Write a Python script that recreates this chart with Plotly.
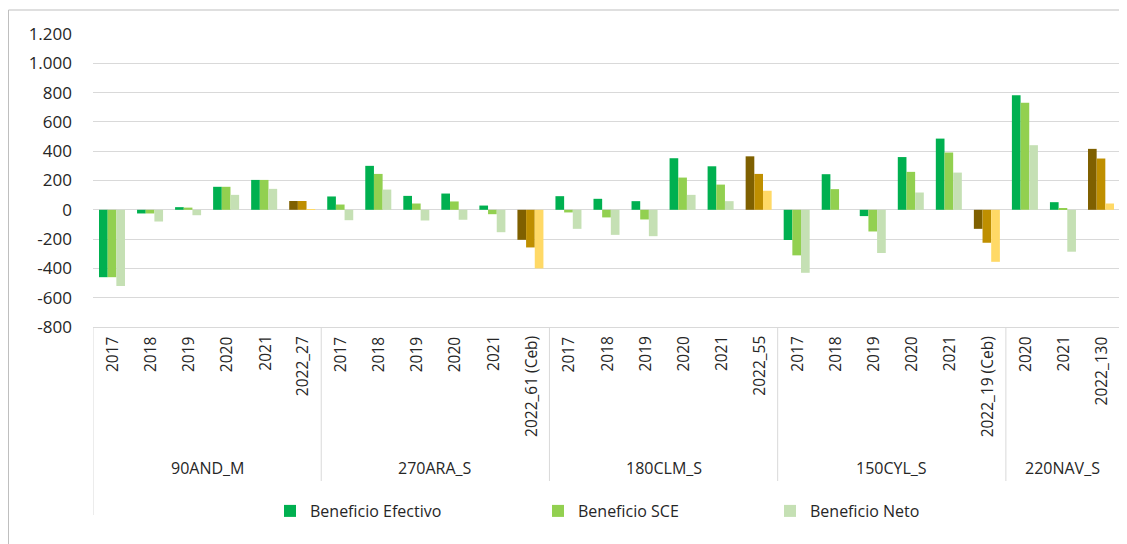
import plotly.graph_objects as go

# ---------------- data ----------------
group_names = ["90AND_M", "270ARA_S", "180CLM_S", "150CYL_S", "220NAV_S"]
group_years = [
    ["2017", "2018", "2019", "2020", "2021", "2022_27"],
    ["2017", "2018", "2019", "2020", "2021", "2022_61 (Ceb)"],
    ["2017", "2018", "2019", "2020", "2021", "2022_55"],
    ["2017", "2018", "2019", "2020", "2021", "2022_19 (Ceb)"],
    ["2020", "2021", "2022_130"],
]
series_names = ["Beneficio Efectivo", "Beneficio SCE", "Beneficio Neto"]
efectivo = [-460, -25, 18, 157, 204, 60,
            91, 300, 95, 111, 29, -205,
            93, 75, 59, 352, 297, 365,
            -206, 243, -43, 360, 486, -130,
            782, 52, 416]
sce = [-460, -25, 15, 157, 204, 60,
       36, 245, 43, 57, -30, -257,
       -18, -52, -66, 220, 172, 245,
       -311, 141, -148, 259, 391, -225,
       730, 7, 350]
neto = [-520, -80, -37, 102, 143, 3,
        -71, 138, -73, -68, -153, -400,
        -130, -171, -180, 102, 59, 130,
        -430, 0, -295, 118, 254, -355,
        441, -286, 43]
y_tickvals = [1200, 1000, 800, 600, 400, 200, 0, -200, -400, -600, -800]
y_ticktext = ["1.200", "1.000", "800", "600", "400", "200", "0", "-200", "-400", "-600", "-800"]

# ---------------- styling ----------------
OFF = 8  # page body margin of the browser
W, H = 1127 - OFF, 544 - OFF
L, R, T, B = 93 - OFF, 7, 34 - OFF, 217
FONT = "Open Sans"
TXT = "#262626"
GRID = "#D9D9D9"
base_colors = ["#00B050", "#92D050", "#C5E0B4"]
hi_colors = ["#7F6000", "#BF8F00", "#FFD966"]


def pxx(px):
    return (px - OFF - L) / (W - L - R)


def pxy(py):
    return (H - B - (py - OFF)) / (H - T - B)


cat_ids = []
year_labels = []
for g, yrs in zip(group_names, group_years):
    for yv in yrs:
        cat_ids.append(f"{g} {yv}")
        year_labels.append(yv)

fig = go.Figure()
series_vals = [efectivo, sce, neto]
legend_keys = ["legend", "legend2", "legend3"]
for k, (name, vals) in enumerate(zip(series_names, series_vals)):
    colors = [hi_colors[k] if lab.startswith("2022") else base_colors[k] for lab in year_labels]
    fig.add_trace(go.Bar(
        x=cat_ids, y=vals, name=name,
        marker=dict(color=colors, line=dict(width=0)),
        legend=legend_keys[k],
    ))

annotations = []
for i, lab in enumerate(year_labels):
    annotations.append(dict(
        x=i, xref="x", y=pxy(334), yref="paper",
        text=lab, textangle=-90, showarrow=False,
        xanchor="center", yanchor="top",
        font=dict(family=FONT, size=15.5, color=TXT),
    ))

shapes = []
start = 0
bounds = [-0.5]
for g, yrs in zip(group_names, group_years):
    n = len(yrs)
    center = start + (n - 1) / 2
    annotations.append(dict(
        x=center, xref="x", y=pxy(468), yref="paper",
        text=g, showarrow=False, xanchor="center", yanchor="middle",
        font=dict(family=FONT, size=16, color=TXT),
    ))
    start += n
    bounds.append(start - 0.5)

for j, bx in enumerate(bounds):
    end_px = 515 if j in (0, len(bounds) - 1) else 481
    shapes.append(dict(type="line", xref="x", yref="paper",
                       x0=bx, x1=bx, y0=0, y1=pxy(end_px),
                       line=dict(color=GRID, width=1)))

# outer chart frame
shapes.append(dict(type="rect", xref="paper", yref="paper",
                   x0=pxx(8.5), x1=pxx(1140), y0=pxy(10), y1=pxy(560),
                   line=dict(color="#BFBFBF", width=1), fillcolor="rgba(0,0,0,0)"))

legend_text_px = [308, 576, 808]
legend_common = dict(orientation="h", yanchor="middle", xanchor="left",
                     font=dict(family=FONT, size=16, color=TXT),
                     bgcolor="rgba(0,0,0,0)", itemclick=False)
layout_legends = {}
for key, tx in zip(legend_keys, legend_text_px):
    layout_legends[key] = dict(legend_common, x=pxx(tx - 38), y=pxy(511))

fig.update_layout(
    width=W, height=H,
    margin=dict(l=L, r=R, t=T, b=B),
    paper_bgcolor="white", plot_bgcolor="white",
    barmode="group", bargap=0.316, bargroupgap=0,
    separators=",.",
    font=dict(family=FONT, color=TXT),
    annotations=annotations, shapes=shapes,
    showlegend=True,
    **layout_legends,
)
fig.update_xaxes(type="category", showticklabels=False, showgrid=False,
                 showline=True, linecolor=GRID, linewidth=1, ticks="",
                 range=[-0.5, len(cat_ids) - 0.5])
fig.update_yaxes(range=[-800, 1200], tickvals=y_tickvals, ticktext=y_ticktext,
                 showgrid=True, gridcolor=GRID, gridwidth=1,
                 zeroline=True, zerolinecolor=GRID, zerolinewidth=1,
                 showline=False, ticks="", ticklabelstandoff=20,
                 tickfont=dict(family=FONT, size=17, color=TXT))

fig.write_html("out.html")
